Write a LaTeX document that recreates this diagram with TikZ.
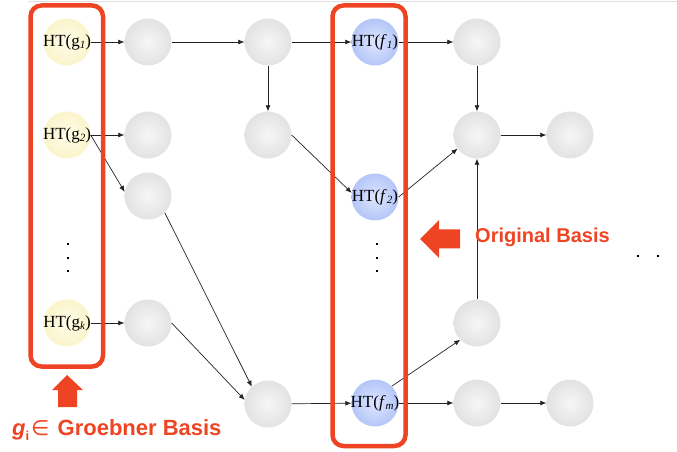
\documentclass[tikz,border=0pt]{standalone}
\usepackage{fontspec}
\setmainfont{Liberation Serif}
\newfontfamily\labelfont{Liberation Sans}
\newfontfamily\symfont{DejaVu Sans}
\usetikzlibrary{arrows.meta}

\definecolor{basisred}{RGB}{239,68,35}
\definecolor{edgegray}{RGB}{35,35,35}
\definecolor{grayin}{RGB}{246,246,246}
\definecolor{graymid}{RGB}{224,224,224}
\definecolor{grayout}{RGB}{198,198,198}
\definecolor{yelin}{RGB}{255,252,232}
\definecolor{yelmid}{RGB}{250,243,200}
\definecolor{yelout}{RGB}{240,229,160}
\definecolor{bluin}{RGB}{222,230,255}
\definecolor{blumid}{RGB}{180,198,248}
\definecolor{bluout}{RGB}{122,150,232}

% soft centred gradients for the three kinds of balls
\pgfdeclareradialshading{grayball}{\pgfpoint{0bp}{0bp}}{color(0bp)=(grayin); color(28bp)=(graymid); color(50bp)=(grayout)}
\pgfdeclareradialshading{yellowball}{\pgfpoint{0bp}{0bp}}{color(0bp)=(yelin); color(28bp)=(yelmid); color(50bp)=(yelout)}
\pgfdeclareradialshading{blueball}{\pgfpoint{0bp}{0bp}}{color(0bp)=(bluin); color(25bp)=(blumid); color(50bp)=(bluout)}

\newcommand\lowidx[1]{\raisebox{-2.5bp}{\fontsize{11bp}{11bp}\selectfont\itshape #1}}

\tikzset{
  x=1bp, y=-1bp,
  ball/.style={circle, minimum size=47bp, inner sep=0pt, draw=none,
               font=\fontsize{17bp}{18bp}\selectfont},
  gball/.style={ball, shading=grayball},
  yball/.style={ball, shading=yellowball},
  bball/.style={ball, shading=blueball},
  conn/.style={draw=edgegray, line width=0.7bp, -{Latex[length=6bp,width=5bp]}},
  basisbox/.style={draw=basisred, line width=4.5bp, rounded corners=11bp},
  redlabel/.style={anchor=base west, inner sep=0pt, text=basisred,
                   font=\labelfont\bfseries\fontsize{20bp}{22bp}\selectfont},
  dotmark/.style={fill=black, inner sep=0pt, minimum size=2.6bp, rectangle}
}

\begin{document}
\begin{tikzpicture}
\useasboundingbox (0,0) rectangle (677,452);
\draw[gray!25, line width=1bp] (28,1.5) -- (677,1.5);

% left column: head terms of the Groebner basis
\node[yball] (g1) at (67,42)  {\makebox[0pt]{HT(g\lowidx{1})}};
\node[yball] (g2) at (67,135) {\makebox[0pt]{HT(g\lowidx{2})}};
\node[yball] (gk) at (67,323) {\makebox[0pt]{HT(g\lowidx{k})}};

% intermediate terms
\node[gball] (a1) at (148,42)  {};
\node[gball] (a2) at (148,135) {};
\node[gball] (a3) at (148,196) {};
\node[gball] (a4) at (148,323) {};
\node[gball] (b1) at (268,42)  {};
\node[gball] (b2) at (268,135) {};
\node[gball] (b3) at (268,404) {};

% head terms of the original basis
\node[bball] (f1) at (375,42)  {\makebox[0pt]{HT(\textit{f}\lowidx{1})}};
\node[bball] (f2) at (375,197) {\makebox[0pt]{HT(\textit{f}\lowidx{2})}};
\node[bball] (fm) at (375,403) {\makebox[0pt]{HT(\textit{f}\lowidx{m})}};

% successors on the right
\node[gball] (c1) at (477,42)  {};
\node[gball] (c2) at (477,135) {};
\node[gball] (c3) at (477,323) {};
\node[gball] (c4) at (477,403) {};
\node[gball] (d2) at (570,135) {};
\node[gball] (d4) at (570,403) {};

% connectors
\draw[conn] (g1) -- (a1);
\draw[conn] (a1) -- (b1);
\draw[conn] (b1) -- (f1);
\draw[conn] (f1) -- (c1);
\draw[conn] (b1) -- (b2);
\draw[conn] (b2.east) -- (f2.170);
\draw[conn] (g2) -- (a2);
\draw[conn] (g2.east) -- (a3.170);
\draw[conn] (a3.-45) -- (b3.133);
\draw[conn] (gk) -- (a4);
\draw[conn] (a4.east) -- (b3.170);
\draw[conn] (b3) -- (fm);
\draw[conn] (fm.45) -- (c3.225);
\draw[conn] (fm) -- (c4);
\draw[conn] (c4) -- (d4);
\draw[conn] (c3) -- (c2);
\draw[conn] (c1) -- (c2);
\draw[conn] (f2.east) -- (c2.215);
\draw[conn] (c2) -- (d2);

% ellipsis dots
\foreach \yy [count=\i] in {244,258,271}{
  \node[dotmark] (lv\i) at (68,\yy) {};
  \node[dotmark] (rv\i) at (377,\yy) {};
}
\node[dotmark] (h1) at (638,256) {};
\node[dotmark] (h2) at (658,256) {};

% highlighting frames
\draw[basisbox] (30.5,5.5) rectangle (103,366.5);
\draw[basisbox] (332.5,5.5) rectangle (405.5,446);

% block arrows
\fill[basisred] (67,375) -- (83,390) -- (77,390) -- (77,407) -- (58,407) -- (58,390) -- (52,390) -- cycle;
\fill[basisred] (420,239) -- (439,220) -- (439,229.5) -- (460,229.5) -- (460,248.5) -- (439,248.5) -- (439,258) -- cycle;

% captions
\node[redlabel] (orig) at (475,243) {Original Basis};
\node[redlabel, font=\labelfont\bfseries\fontsize{22bp}{23bp}\selectfont] (grob) at (12,435)
  {\textit{g}\raisebox{-5bp}{\fontsize{13bp}{13bp}\selectfont i}\hspace{2bp}{\symfont\mdseries\fontsize{21bp}{22bp}\selectfont ∈}\hspace{2bp} Groebner Basis};
\end{tikzpicture}
\end{document}
